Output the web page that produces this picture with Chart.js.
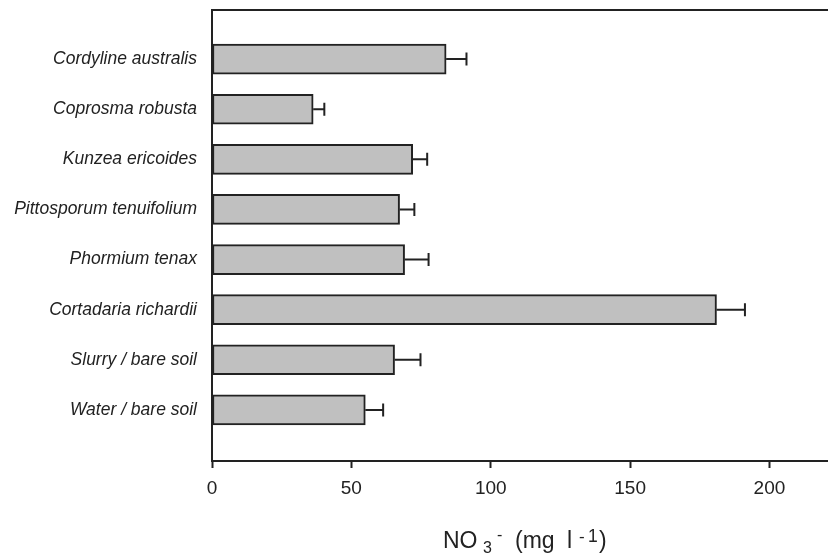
<!DOCTYPE html>
<html>
<head>
<meta charset="utf-8">
<script src="https://cdn.jsdelivr.net/npm/chart.js@4.4.1/dist/chart.umd.min.js"></script>
<style>
  html, body { margin: 0; padding: 0; background: #fff; }
  #wrap { width: 828px; height: 559px; }
</style>
</head>
<body>
<div id="wrap"><canvas id="no3-chart" width="828" height="559"></canvas></div>
<script>
// NO3- concentration per treatment, top to bottom as in the figure
const categories = [
  'Cordyline australis',
  'Coprosma robusta',
  'Kunzea ericoides',
  'Pittosporum tenuifolium',
  'Phormium tenax',
  'Cortadaria richardii',
  'Slurry / bare soil',
  'Water / bare soil',
];
const values = [84.0, 36.3, 72.0, 67.3, 69.1, 181.0, 65.5, 55.0];
const errors = [7.3, 4.0, 5.2, 5.3, 8.6, 10.2, 9.3, 6.4];
const xTicks = [0, 50, 100, 150, 200];

const INK = '#222';
const FONT = "'Liberation Sans', Arial, sans-serif";

// one-sided error bars with a cap
const errorBarPlugin = {
  id: 'errorBars',
  afterDatasetsDraw(chart) {
    const { ctx, scales: { x, y } } = chart;
    ctx.save();
    ctx.strokeStyle = INK;
    ctx.lineWidth = 2;
    values.forEach((v, i) => {
      const yPix = y.getPixelForValue(i + 1);
      const x0 = x.getPixelForValue(v);
      const x1 = x.getPixelForValue(v + errors[i]);
      ctx.beginPath();
      ctx.moveTo(x0, yPix);
      ctx.lineTo(x1, yPix);
      ctx.moveTo(x1, yPix - 6.5);
      ctx.lineTo(x1, yPix + 6.5);
      ctx.stroke();
    });
    ctx.restore();
  },
};

// top edge of the frame
const topLinePlugin = {
  id: 'topLine',
  afterDraw(chart) {
    const { ctx, chartArea } = chart;
    ctx.save();
    ctx.strokeStyle = INK;
    ctx.lineWidth = 2;
    ctx.beginPath();
    ctx.moveTo(chartArea.left, chartArea.top);
    ctx.lineTo(chartArea.right, chartArea.top);
    ctx.stroke();
    ctx.restore();
  },
};

// x axis title with sub- and superscripts: NO3- (mg l-1)
const axisTitlePlugin = {
  id: 'axisTitle',
  afterDraw(chart) {
    const { ctx, chartArea } = chart;
    const start = (chartArea.left + chartArea.right) / 2 - 77;
    const base = 548;
    const pieces = [
      { text: 'NO', dx: 0, dy: 0, size: 23 },
      { text: '3', dx: 40, dy: 5, size: 16 },
      { text: '-', dx: 54, dy: -8, size: 16 },
      { text: '(mg', dx: 72, dy: 0, size: 23 },
      { text: 'l', dx: 124, dy: 0, size: 23 },
      { text: '-', dx: 136, dy: -6, size: 17 },
      { text: '1', dx: 145, dy: -6, size: 17.5 },
      { text: ')', dx: 156, dy: 0, size: 23 },
    ];
    ctx.save();
    ctx.fillStyle = INK;
    ctx.textAlign = 'left';
    ctx.textBaseline = 'alphabetic';
    pieces.forEach((p) => {
      ctx.font = `${p.size}px ${FONT}`;
      ctx.fillText(p.text, start + p.dx, base + p.dy);
    });
    ctx.restore();
  },
};

const chartData = {
  datasets: [
    {
      label: 'NO3-',
      data: categories.map((c, i) => ({ y: i + 1, x: values[i] })),
      backgroundColor: '#c0c0c0',
      borderColor: INK,
      borderWidth: 2,
      borderSkipped: false,
      barThickness: 30,
    },
  ],
};

const options = {
  indexAxis: 'y',
  responsive: false,
  animation: false,
  layout: { padding: { top: 10, right: 0, bottom: 0, left: 0 } },
  plugins: {
    legend: { display: false },
    tooltip: { enabled: false },
  },
  scales: {
    x: {
      type: 'linear',
      offset: false,
      min: 0,
      max: 221,
      afterFit: (scale) => {
        scale.height = 98;
        scale.paddingLeft = 0;
        scale.paddingRight = 0;
      },
      afterBuildTicks: (scale) => {
        scale.ticks = xTicks.map((v) => ({ value: v }));
      },
      grid: {
        drawOnChartArea: false,
        offset: false,
        tickLength: 7,
        tickWidth: 2,
        tickColor: INK,
      },
      border: { color: INK, width: 2 },
      ticks: {
        color: INK,
        padding: 9,
        font: { family: FONT, size: 19 },
        maxRotation: 0,
      },
    },
    y: {
      type: 'linear',
      offset: false,
      reverse: true,
      min: 0.02,
      max: 9.02,
      afterFit: (scale) => {
        scale.width = 212;
        scale.paddingTop = 0;
        scale.paddingBottom = 0;
      },
      afterBuildTicks: (scale) => {
        scale.ticks = categories.map((c, i) => ({ value: i + 1 }));
      },
      grid: { display: false, offset: false },
      border: { color: INK, width: 2 },
      ticks: {
        color: INK,
        padding: 7,
        autoSkip: false,
        font: { family: FONT, size: 17.5, style: 'italic' },
        callback: (v) => categories[v - 1] || '',
      },
    },
  },
};

new Chart(document.getElementById('no3-chart').getContext('2d'), {
  type: 'bar',
  data: chartData,
  options: options,
  plugins: [errorBarPlugin, topLinePlugin, axisTitlePlugin],
});
</script>
</body>
</html>
